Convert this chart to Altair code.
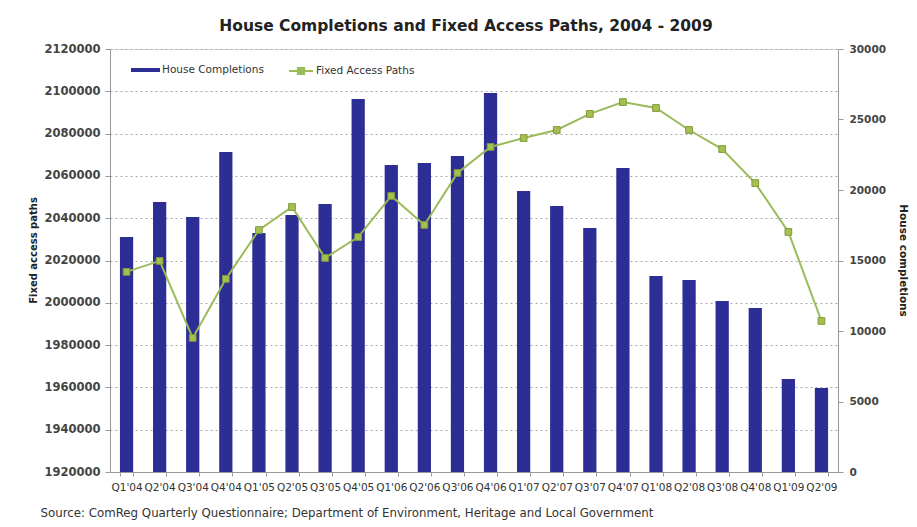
import altair as alt
import pandas as pd

quarters = ["Q1'04", "Q2'04", "Q3'04", "Q4'04", "Q1'05", "Q2'05", "Q3'05", "Q4'05",
            "Q1'06", "Q2'06", "Q3'06", "Q4'06", "Q1'07", "Q2'07", "Q3'07", "Q4'07",
            "Q1'08", "Q2'08", "Q3'08", "Q4'08", "Q1'09", "Q2'09"]
house_completions = [16670, 19150, 18090, 22700, 16950, 18230, 19010, 26450,
                     21770, 21910, 22410, 26880, 19930, 18870, 17300, 21560,
                     13900, 13620, 12130, 11630, 6600, 5960]
fixed_access_paths = [2014600, 2019800, 1983400, 2011300, 2034400, 2045300, 2021200, 2031100,
                      2050500, 2036800, 2061400, 2073700, 2077900, 2081700, 2089300, 2094900,
                      2092100, 2081700, 2072700, 2056600, 2033500, 1991400]
left_ticks = list(range(1920000, 2120001, 20000))
right_ticks = list(range(0, 30001, 5000))

df = pd.DataFrame({
    "quarter": quarters,
    "house": house_completions,
    "fap": fixed_access_paths,
    "s_bar": ["House Completions"] * len(quarters),
    "s_line": ["Fixed Access Paths"] * len(quarters),
})

BLUE = "#2D2D96"
GREEN = "#9BBB59"
FONT = "DejaVu Sans"

x_axis = alt.Axis(
    labelAngle=0, labelFontSize=10.5, labelFont=FONT, labelColor="#333333",
    labelPadding=6, tickBand="extent", tickSize=4, tickColor="#999999",
    domainColor="#999999",
    title="Source: ComReg Quarterly Questionnaire;  Department of Environment, Heritage and Local Government",
    titleFont=FONT, titleFontSize=11.8, titleFontWeight="normal", titleColor="#333333",
    titleAnchor="start", titleAlign="left", titleX=-70, titleY=40, titleBaseline="middle",
)
x_enc = alt.X("quarter:N", sort=quarters,
              scale=alt.Scale(paddingInner=0.6, paddingOuter=0.3), axis=x_axis)

bars = alt.Chart(df).mark_bar().encode(
    x=x_enc,
    y=alt.Y("house:Q", scale=alt.Scale(domain=[0, 30000], nice=False),
            axis=alt.Axis(orient="right", values=right_ticks, format="d", grid=False,
                          labelFont=FONT, labelFontSize=10.5, labelFontWeight="bold",
                          labelColor="#444444", tickSize=5, tickColor="#999999",
                          domainColor="#999999", labelPadding=6,
                          title="House completions", titleAngle=90, titleFont=FONT,
                          titleFontSize=10.5, titleFontWeight="bold", titleColor="#222222",
                          titleX=64, titleY=211, titleAlign="center", titleBaseline="middle")),
    color=alt.Color("s_bar:N", scale=alt.Scale(domain=["House Completions"], range=[BLUE]),
                    legend=alt.Legend(title=None, orient="none", legendX=21, legendY=6.5,
                                      symbolType="M-1,-0.14H1V0.14H-1Z", symbolSize=841,
                                      symbolStrokeWidth=0, labelFont=FONT, labelFontSize=10.5,
                                      labelColor="#333333", labelOffset=2, padding=0)),
)

line = alt.Chart(df).mark_line(
    strokeWidth=2,
    point=alt.OverlayMarkDef(shape="square", size=45, filled=True, fill="#A6C050",
                             stroke="#7E9A3A", strokeWidth=1),
).encode(
    x=x_enc,
    y=alt.Y("fap:Q", scale=alt.Scale(domain=[1920000, 2120000], nice=False, zero=False),
            axis=alt.Axis(orient="left", values=left_ticks, format="d", grid=True,
                          gridDash=[2, 3], gridColor="#a8a8a8", gridWidth=1,
                          labelFont=FONT, labelFontSize=11.5, labelFontWeight="bold",
                          labelColor="#444444", tickSize=5, tickColor="#999999",
                          domainColor="#999999", labelPadding=5,
                          title="Fixed access paths", titleAngle=270, titleFont=FONT,
                          titleFontSize=10, titleFontWeight="bold", titleColor="#222222",
                          titleX=-77, titleY=201, titleAlign="center", titleBaseline="middle")),
    color=alt.Color("s_line:N", scale=alt.Scale(domain=["Fixed Access Paths"], range=[GREEN]),
                    legend=alt.Legend(title=None, orient="none", legendX=178, legendY=9,
                                      symbolType="M-1,0H1M-0.26,-0.26H0.26V0.26H-0.26Z",
                                      symbolSize=576, symbolStrokeWidth=2,
                                      symbolFillColor="#A6C050",
                                      labelFont=FONT, labelFontSize=10.5,
                                      labelColor="#333333", labelOffset=2, padding=0)),
)

chart = alt.layer(bars, line).resolve_scale(y="independent", color="independent").properties(
    width=728, height=423,
    autosize=alt.AutoSizeParams(type="none"),
    padding={"left": 110, "top": 49, "right": 79, "bottom": 55},
    title=alt.TitleParams("House Completions and Fixed Access Paths, 2004 - 2009",
                          font=FONT, fontSize=15.5, fontWeight="bold", color="#222222",
                          anchor="middle", offset=9, dx=-8),
).configure_view(stroke=None).configure(background="white")

chart.save("out.html", embed_options={"renderer": "svg", "actions": False})
